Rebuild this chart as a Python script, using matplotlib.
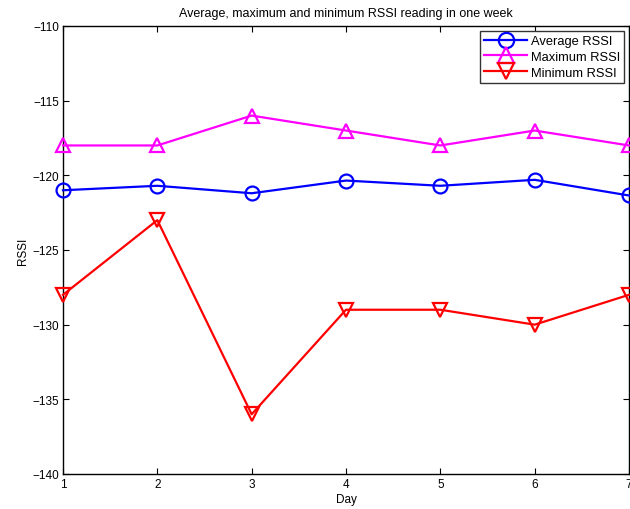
import matplotlib
matplotlib.use("Agg")
import matplotlib.pyplot as plt

days = [1, 2, 3, 4, 5, 6, 7]
avg_rssi = [-121.0, -120.7, -121.2, -120.35, -120.7, -120.3, -121.35]
max_rssi = [-118, -118, -116, -117, -118, -117, -118]
min_rssi = [-128, -123, -136, -129, -129, -130, -128]
yticks = [-140, -135, -130, -125, -120, -115, -110]

plt.rcParams['font.family'] = ['Liberation Sans', 'DejaVu Sans']
plt.rcParams['font.size'] = 8.5

fig = plt.figure(figsize=(6.3, 5.1), dpi=100)
ax = fig.add_axes([63/630, (510-475)/510, (629-63)/630, (475-27)/510])

kw = dict(lw=1.6, ms=10, mfc='none', mew=1.6, clip_on=False, zorder=3)
ax.plot(days, avg_rssi, color='blue', marker='o', label='Average RSSI', **kw)
ax.plot(days, max_rssi, color='magenta', marker='^', label='Maximum RSSI', **kw)
ax.plot(days, min_rssi, color='red', marker='v', label='Minimum RSSI', **kw)

ax.set_xlim(1, 7)
ax.set_ylim(-140, -110)
ax.set_xticks(days)
ax.set_yticks(yticks)
ax.tick_params(direction='in', top=True, right=True, length=4, width=0.8, pad=3)
for s in ax.spines.values():
    s.set_linewidth(1.0)
ax.set_xlabel('Day', labelpad=2)
ax.set_ylabel('RSSI', labelpad=2)
ax.set_title('Average, maximum and minimum RSSI reading in one week', fontsize=9.0, pad=7)

leg = ax.legend(loc='upper right', fancybox=False, edgecolor='#333333', framealpha=1,
                borderpad=0.35, labelspacing=0.3, handlelength=3.3, handletextpad=0.3,
                borderaxespad=0.35, fontsize=9.3, markerscale=1.1)
leg.get_frame().set_linewidth(1.0)

fig.savefig('out.png', dpi=100)
